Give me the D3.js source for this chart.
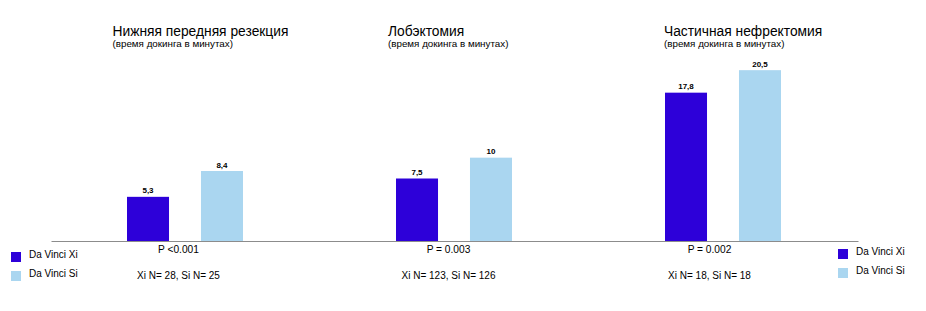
<!DOCTYPE html>
<html>
<head>
<meta charset="utf-8">
<title>Время докинга</title>
<script src="https://d3js.org/d3.v7.min.js"></script>
<style>
  body { margin: 0; background: #fff; }
  text { font-family: "Liberation Sans", Arial, sans-serif; fill: #000; }
</style>
</head>
<body>
<div id="chart"></div>
<script>
// данные
const groups = ["Нижняя передняя резекция", "Лобэктомия", "Частичная нефректомия"];
const subtitle = "(время докинга в минутах)";
const series = ["Da Vinci Xi", "Da Vinci Si"];
const xiValues = [5.3, 7.5, 17.8];
const siValues = [8.4, 10, 20.5];
const valueLabels = [["5,3", "8,4"], ["7,5", "10"], ["17,8", "20,5"]];
const pLabels = ["P <0.001", "P = 0.003", "P = 0.002"];
const nLabels = ["Xi N= 28, Si N= 25", "Xi N= 123, Si N= 126", "Xi N= 18, Si N= 18"];

const colors = ["#2d00d9", "#aad6f0"];

const W = 926, H = 311;
const baseY = 241;

// небольшие сдвиги подписей относительно центра группы
const titleDx = [-73, -66.5, -59.5];
const statDx = [-7, -6, -14];

const svg = d3.select("#chart").append("svg")
    .attr("width", W)
    .attr("height", H);

const x = d3.scaleBand()
    .domain(groups)
    .range([51, 858]);

const xInner = d3.scaleBand()
    .domain(series)
    .range([76, 192])
    .paddingInner(0.432);

const y = d3.scaleLinear()
    .domain([0, 24])
    .range([baseY, baseY - 200]);

const table = groups.map((g, i) => ({
    group: g, i: i,
    bars: [
        {s: series[0], v: xiValues[i], label: valueLabels[i][0]},
        {s: series[1], v: siValues[i], label: valueLabels[i][1]}
    ]
}));

const g = svg.selectAll("g.group")
    .data(table)
    .enter().append("g")
    .attr("class", "group")
    .attr("transform", d => "translate(" + x(d.group) + ",0)");

g.selectAll("rect")
    .data(d => d.bars)
    .enter().append("rect")
    .attr("x", d => xInner(d.s))
    .attr("y", d => y(d.v))
    .attr("width", xInner.bandwidth())
    .attr("height", d => y(0) - y(d.v))
    .attr("fill", (d, i) => colors[i]);

g.selectAll("text.val")
    .data(d => d.bars)
    .enter().append("text")
    .attr("class", "val")
    .attr("x", d => xInner(d.s) + xInner.bandwidth() / 2)
    .attr("y", d => y(d.v) - 3.5)
    .attr("text-anchor", "middle")
    .attr("font-size", "8px")
    .attr("font-weight", "bold")
    .text(d => d.label);

const mid = x.bandwidth() / 2;

g.append("text")
    .attr("x", d => mid + titleDx[d.i])
    .attr("y", 36)
    .attr("font-size", "13.8px")
    .text(d => d.group);

g.append("text")
    .attr("x", d => mid + titleDx[d.i])
    .attr("y", 47)
    .attr("font-size", "9.8px")
    .text(subtitle);

g.append("text")
    .attr("x", d => mid + statDx[d.i])
    .attr("y", 252.5)
    .attr("text-anchor", "middle")
    .attr("font-size", "10.2px")
    .text(d => pLabels[d.i]);

g.append("text")
    .attr("x", d => mid + statDx[d.i])
    .attr("y", 279)
    .attr("text-anchor", "middle")
    .attr("font-size", "10px")
    .text(d => nLabels[d.i]);

// базовая линия
svg.append("g")
    .attr("transform", "translate(0," + baseY + ")")
    .call(d3.axisBottom(x).tickSize(0).tickFormat(""))
    .call(a => a.select(".domain").attr("stroke", "#8c8c8c"));

// легенды слева и справа
function legend(lx, ly) {
    const lg = svg.append("g").attr("transform", "translate(" + lx + "," + ly + ")");
    series.forEach((s, i) => {
        lg.append("rect")
            .attr("x", 0).attr("y", i * 19)
            .attr("width", 10).attr("height", 10)
            .attr("fill", colors[i]);
        lg.append("text")
            .attr("x", 18).attr("y", i * 19 + 6)
            .attr("font-size", "10px")
            .text(s);
    });
}
legend(11, 252);
legend(838, 249);
</script>
</body>
</html>
